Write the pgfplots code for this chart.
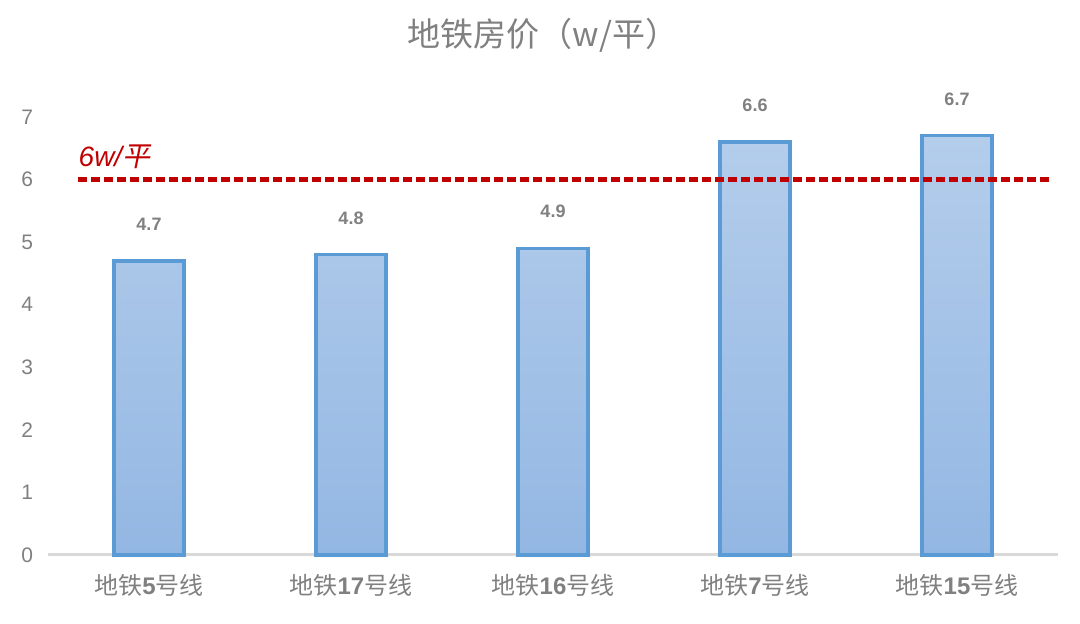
\documentclass[border=0pt]{standalone}
\usepackage{fontspec}
\setmainfont{Liberation Sans}
\newfontfamily\cjk{Noto Sans CJK SC}
\usepackage{pgfplots}
\pgfplotsset{compat=1.18}
\definecolor{tgray}{HTML}{808080}
\definecolor{lgray}{HTML}{D9D9D9}
\definecolor{barline}{HTML}{5B9BD5}
\definecolor{bartop}{HTML}{B4CDEB}
\definecolor{barbot}{HTML}{93B7E3}
\definecolor{dred}{HTML}{C00000}
\newcommand{\xl}[1]{{\cjk 地铁}{\bfseries #1}{\cjk 号线}}
\begin{document}
\begin{tikzpicture}
\path[use as bounding box] (-24pt,-34.5pt) rectangle (516pt,277.5pt);
\begin{axis}[
  scale only axis, width=505pt, height=219pt,
  xmin=-0.5, xmax=4.5, ymin=0, ymax=7,
  ytick={0,1,2,3,4,5,6,7}, xtick={0,1,2,3,4},
  xticklabels={\xl{5},\xl{17},\xl{16},\xl{7},\xl{15}},
  axis x line*=bottom, axis y line*=left,
  y axis line style={draw=none},
  x axis line style={draw=lgray, line width=1.5pt},
  major tick length=0pt, tick style={draw=none},
  /pgf/number format/assume math mode=true,
  yticklabel style={font=\fontsize{10.5}{12}\selectfont, text=tgray, xshift=-4pt},
  xticklabel style={font=\fontsize{12}{14}\selectfont, text=tgray, yshift=-6pt},
  clip=false,
]
\addplot[ybar, bar width=35pt, draw=barline, line width=1.7pt,
  top color=bartop, bottom color=barbot,
  nodes near coords,
  every node near coord/.append style={font=\bfseries\fontsize{9}{10}\selectfont, text=tgray, yshift=11pt}]
  coordinates {(0,4.7) (1,4.8) (2,4.9) (3,6.6) (4,6.7)};
\addplot[sharp plot, no markers, draw=dred, line width=2.2pt, dash pattern=on 4.5pt off 2pt, forget plot]
  coordinates {(-0.35,6) (4.46,6)};
\node[anchor=west, text=dred, font=\fontsize{14}{16}\selectfont, inner sep=0pt] at (axis cs:-0.35,6.36) {\itshape 6w/{\cjk\addfontfeatures{FakeSlant=0.2}平}};
\node[text=tgray, font=\fontsize{16.5}{18}\selectfont] at (rel axis cs:0.49,1.187) {\cjk 地铁房价（w/平）};
\end{axis}
\end{tikzpicture}
\end{document}
